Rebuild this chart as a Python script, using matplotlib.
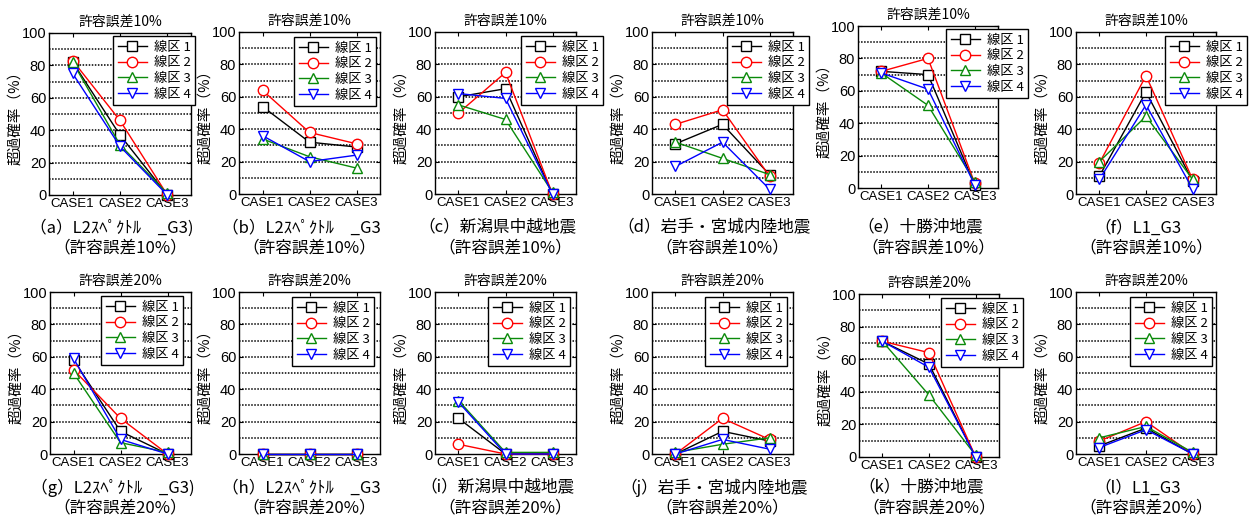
import matplotlib
matplotlib.use('Agg')
import matplotlib.pyplot as plt

plt.rcParams['font.family'] = ['Liberation Sans', 'Noto Sans CJK JP']
CJK = ['Noto Sans CJK JP', 'DejaVu Sans']

W, H = 1250, 515

cases = ['CASE1', 'CASE2', 'CASE3']
series_labels = ['線区 1', '線区 2', '線区 3', '線区 4']
y_ticks = [0, 20, 40, 60, 80, 100]
y_label = '超過確率（%）'

# exceedance probability (%) per panel, rows = 線区1..4, columns = CASE1..3
vals_a = [[82, 37, 0], [83, 46, 0], [82, 31, 1], [75, 30, 0]]
vals_b = [[54, 32, 29], [64, 38, 31], [34, 23, 16], [36, 20, 24]]
vals_c = [[60, 65, 0], [50, 75, 0], [55, 46, 1], [62, 59, 0]]
vals_d = [[31, 43, 12], [43, 52, 11], [32, 22, 12], [17, 32, 3]]
vals_e = [[72, 70, 2], [72, 80, 3], [71, 51, 4], [71, 61, 2]]
vals_f = [[11, 63, 8], [19, 73, 9], [20, 48, 9], [9, 55, 3]]
vals_g = [[58, 14, 0], [52, 22, 0], [50, 7, 1], [59, 9, 0]]
vals_h = [[0, 0, 0], [0, 0, 0], [0, 0, 0], [0, 0, 0]]
vals_i = [[22, 0, 0], [6, 0, 0], [33, 1, 1], [32, 0, 0]]
vals_j = [[0, 14, 8], [0, 22, 9], [1, 6, 10], [0, 9, 3]]
vals_k = [[71, 57, 0], [71, 64, 0], [71, 38, 1], [71, 55, 0]]
vals_l = [[5, 16, 0], [8, 20, 0], [10, 17, 1], [4, 15, 0]]

titles_top = '許容誤差10%'
titles_bottom = '許容誤差20%'
captions = ['（a）L2ｽﾍﾟｸﾄﾙ　_G3)', '（b）L2ｽﾍﾟｸﾄﾙ　_G3', '（c）新潟県中越地震',
            '（d）岩手・宮城内陸地震', '（e）十勝沖地震', '（f）L1_G3',
            '（g）L2ｽﾍﾟｸﾄﾙ　_G3)', '（h）L2ｽﾍﾟｸﾄﾙ　_G3', '（i）新潟県中越地震',
            '（j）岩手・宮城内陸地震', '（k）十勝沖地震', '（l）L1_G3']
sub_top = '（許容誤差10%）'
sub_bottom = '（許容誤差20%）'

panels = [vals_a, vals_b, vals_c, vals_d, vals_e, vals_f,
          vals_g, vals_h, vals_i, vals_j, vals_k, vals_l]

# axes boxes in pixels: left, right, top, bottom
ax_px = [(49, 191, 33, 195), (239, 380, 32, 194), (435, 576, 32, 194),
         (652, 793, 32, 194), (858, 998, 26, 188), (1076, 1216, 32, 194),
         (50, 191, 292, 454), (239, 380, 292, 454), (435, 576, 292, 454),
         (652, 793, 292, 454), (859, 999, 294, 457), (1076, 1216, 292, 454)]
# legend anchor (right, top) in pixels
leg_px = [(195, 36), (376, 37), (603, 36), (809, 36), (1028, 29), (1247, 36),
          (183, 296), (374, 297), (570, 297), (787, 297), (1023, 298), (1212, 297)]

colors = ['black', 'red', '#0a8a0a', 'blue']
markers = ['s', 'o', '^', 'v']

fig = plt.figure(figsize=(W / 100, H / 100), dpi=100)
x = [1, 2, 3]

for i, vals in enumerate(panels):
    l, r, t, b = ax_px[i]
    ax = fig.add_axes([l / W, 1 - b / H, (r - l) / W, (b - t) / H])
    for k in range(4):
        ax.plot(x, vals[k], color=colors[k], marker=markers[k], ms=7.5,
                mfc='white', mec=colors[k], mew=1.0, lw=1.0,
                label=series_labels[k], clip_on=False, zorder=3 + k)
    ax.set_xlim(0.5, 3.5)
    ax.set_ylim(0, 100)
    ax.set_xticks(x)
    ax.set_xticklabels(cases, fontsize=9.5)
    ax.set_yticks(y_ticks)
    ax.set_yticklabels([str(v) for v in y_ticks], fontsize=10.5)
    for gy in range(10, 100, 10):
        ax.axhline(gy, color='black', lw=1.1, ls=(0, (1, 1)), zorder=1)
    ax.tick_params(direction='in', top=True, right=True, length=3, width=0.8, pad=2)
    for s in ax.spines.values():
        s.set_linewidth(1.0)
    ax.set_title(titles_top if i < 6 else titles_bottom, fontsize=10,
                 family=CJK, pad=5)
    ax.set_ylabel(y_label, fontsize=10.5, family=CJK)
    ax.yaxis.set_label_coords(-27 / (r - l), 0.5)
    lr, lt = leg_px[i]
    leg = ax.legend(loc='upper right', bbox_to_anchor=(lr / W, 1 - lt / H),
                    bbox_transform=fig.transFigure, borderaxespad=0,
                    prop={'family': CJK, 'size': 9.5}, frameon=True,
                    fancybox=False, framealpha=1, edgecolor='black',
                    handlelength=2.2, labelspacing=0.2, handletextpad=0.5,
                    borderpad=0.35)
    leg.get_frame().set_linewidth(1.0)
    leg.set_zorder(10)
    cx = (l + r) / 2
    cy1 = 228 if i < 6 else 488
    fig.text((cx - 8) / W, 1 - cy1 / H, captions[i], ha='center', va='center',
             fontsize=12, family=CJK)
    fig.text(cx / W, 1 - (cy1 + 20) / H, sub_top if i < 6 else sub_bottom,
             ha='center', va='center', fontsize=12, family=CJK)

fig.savefig('out.png', dpi=100)
